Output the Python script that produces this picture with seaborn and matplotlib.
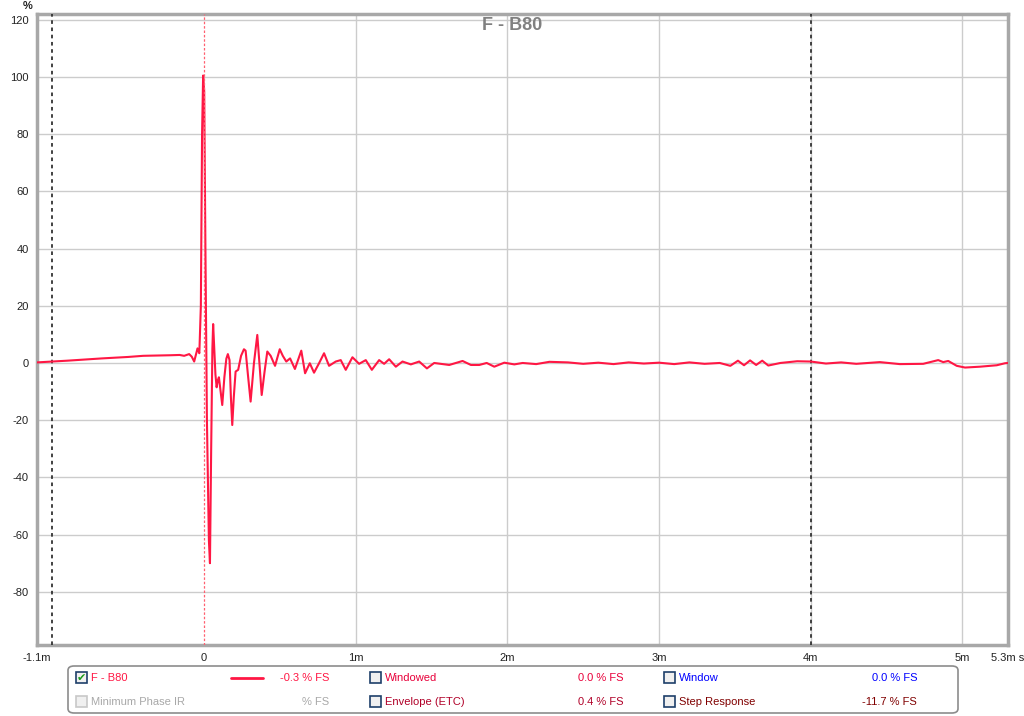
import numpy as np
import pandas as pd
import matplotlib
matplotlib.use("Agg")
import matplotlib.pyplot as plt
from matplotlib.patches import Rectangle, FancyBboxPatch
from matplotlib.lines import Line2D
import seaborn as sns

# impulse response (time in ms, amplitude in % FS)
t_ms = [-1.1, -0.9, -0.67, -0.5, -0.4, -0.3, -0.22, -0.16, -0.13, -0.097, -0.08,
        -0.064, -0.052, -0.042, -0.03, -0.02, -0.012, -0.005, 0.002, 0.01, 0.02,
        0.033, 0.04, 0.048, 0.056, 0.061, 0.068, 0.076, 0.084, 0.092, 0.099,
        0.108, 0.121, 0.135, 0.148, 0.158, 0.169, 0.178, 0.187, 0.197, 0.209,
        0.226, 0.245, 0.264, 0.275, 0.29, 0.308, 0.33, 0.352, 0.366, 0.381,
        0.4, 0.418, 0.44, 0.469, 0.5, 0.52, 0.543, 0.568, 0.6, 0.642, 0.667,
        0.698, 0.726, 0.76, 0.792, 0.825, 0.869, 0.902, 0.935, 0.979, 1.023,
        1.067, 1.107, 1.155, 1.188, 1.221, 1.265, 1.309, 1.364, 1.419, 1.47,
        1.518, 1.562, 1.617, 1.705, 1.76, 1.815, 1.864, 1.914, 1.98, 2.046,
        2.101, 2.19, 2.277, 2.4, 2.5, 2.6, 2.7, 2.8, 2.9, 3.0, 3.1, 3.2, 3.3,
        3.4, 3.47, 3.52, 3.56, 3.6, 3.64, 3.68, 3.72, 3.8, 3.91, 4.0, 4.1,
        4.2, 4.3, 4.455, 4.587, 4.741, 4.84, 4.873, 4.906, 4.962, 5.017,
        5.116, 5.226, 5.28, 5.3]
pct = [0.2, 0.8, 1.6, 2.1, 2.5, 2.6, 2.7, 2.8, 2.5, 3.1, 2.2,
       0.5, 3.0, 5.1, 3.4, 20.0, 80.0, 100.5, 95.0, 40.0, -20.0,
       -62.0, -70.0, -30.0, 5.0, 13.6, 5.0, -4.0, -8.5, -6.0, -5.0,
       -9.0, -14.7, -5.0, 1.5, 3.1, 1.0, -12.0, -21.7, -12.0, -3.0,
       -2.4, 2.5, 4.8, 4.3, -4.0, -13.5, 0.0, 9.8, 0.0, -11.2,
       -3.0, 4.0, 2.5, -1.0, 4.8, 2.5, 0.5, 1.6, -2.1, 4.3, -3.6,
       -0.1, -3.4, 0.0, 3.4, -1.0, 0.5, 1.0, -2.4, 2.0, -0.3,
       1.0, -2.4, 1.0, -0.3, 1.3, -1.3, 0.5, -0.5, 0.5, -1.9,
       0.0, -0.3, -0.7, 0.7, -0.7, -0.7, 0.0, -1.3, 0.1, -0.5,
       0.0, -0.4, 0.4, 0.2, -0.3, 0.1, -0.4, 0.2, -0.2, 0.1, -0.4, 0.2, -0.3,
       0.0, -1.0, 0.8, -0.8, 0.9, -0.7, 0.8, -0.9, 0.0, 0.6, 0.5, -0.2,
       0.2, -0.3, 0.3, -0.4, -0.3, 1.0, 0.3, 0.7, -1.0, -1.6,
       -1.3, -0.8, -0.1, 0.0]

x_ticks = [-1.1, 0, 1, 2, 3, 4, 5, 5.3]
x_labels = ["-1.1m", "0", "1m", "2m", "3m", "4m", "5m", "5.3m s"]
y_ticks = [-80, -60, -40, -20, 0, 20, 40, 60, 80, 100, 120]
cursor_ms = [-1.0, 4.0]

df = pd.DataFrame({"t": t_ms, "v": pct})

sns.set_style("white")
plt.rcParams["font.family"] = ["Liberation Sans", "DejaVu Sans"]

W, H = 1024, 716
fig = plt.figure(figsize=(W / 100, H / 100), dpi=100)


def fx(x):
    return x / W


def fy(y):
    return 1 - y / H


ax = fig.add_axes([fx(37), fy(645), fx(1008 - 37), (645 - 14) / H])

curve_col = "#ff1744"
sns.lineplot(data=df, x="t", y="v", ax=ax, color=curve_col, lw=1.5, zorder=5)

ax.set_xlim(-1.1, 5.3)
ax.set_ylim(-98.6, 122)
ax.set_xticks(x_ticks)
ax.set_xticklabels(x_labels)
ax.set_yticks(y_ticks)
ax.set_yticklabels([str(v) for v in y_ticks])
ax.tick_params(length=0, labelsize=8, colors="#222222", pad=6)
ax.set_xlabel("")
ax.set_ylabel("")

for v in y_ticks:
    ax.axhline(v, color="#cccccc", lw=1, zorder=1)
for v in [1, 2, 3, 4, 5]:
    ax.axvline(v, color="#cccccc", lw=1, zorder=1)

for c in cursor_ms:
    ax.axvline(c, color="#333333", lw=1.3, ls=(0, (2, 2)), zorder=4)
ax.axvline(0, color="#ff6070", lw=0.9, ls=(0, (2, 1.5)), zorder=6)

for s in ax.spines.values():
    s.set_color("#a8a8a8")
    s.set_linewidth(2.5)

fig.text(fx(512), fy(26), "F - B80", ha="center", va="center",
         fontsize=13, fontweight="bold", color="#808080")
fig.text(fx(28), fy(6), "%", ha="center", va="center", fontsize=8,
         fontweight="bold", color="#222222")

# legend panel
fig.patches.append(FancyBboxPatch((fx(68), fy(713)), fx(958 - 68), (713 - 666) / H,
                                  boxstyle="round,pad=0,rounding_size=0.006",
                                  transform=fig.transFigure, facecolor="white",
                                  edgecolor="#8c8c8c", lw=1.2))


def checkbox(x, y, enabled=True, checked=False):
    ec = "#1e3f6a" if enabled else "#c8c8c8"
    fig.patches.append(Rectangle((fx(x), fy(y + 11)), 11 / W, 11 / H,
                                 transform=fig.transFigure, facecolor="#f0f0f0",
                                 edgecolor=ec, lw=1.2))
    if checked:
        fig.text(fx(x + 5.5), fy(y + 6), "\u2714", ha="center", va="center",
                 fontsize=8, color="#1a9a1a", family="DejaVu Sans")


rows = [
    [(76, "F - B80", "#ff1744", "-0.3 % FS", 329, True, True),
     (370, "Windowed", "#e8003a", "0.0 % FS", 623, True, False),
     (664, "Window", "#0000ff", "0.0 % FS", 917, True, False)],
    [(76, "Minimum Phase IR", "#a8a8a8", "% FS", 329, False, False),
     (370, "Envelope (ETC)", "#b00028", "0.4 % FS", 623, True, False),
     (664, "Step Response", "#800000", "-11.7 % FS", 917, True, False)],
]
row_y = [678, 702]
for ry, row in zip(row_y, rows):
    for bx, name, col, val, vx, en, chk in row:
        checkbox(bx, ry - 6, en, chk)
        fig.text(fx(bx + 15), fy(ry), name, ha="left", va="center",
                 fontsize=8, color=col)
        fig.text(fx(vx), fy(ry), val, ha="right", va="center",
                 fontsize=8, color=col)

fig.lines.append(Line2D([fx(231), fx(263)], [fy(678), fy(678)],
                        transform=fig.transFigure, color=curve_col, lw=2))

fig.savefig("out.png", dpi=100)
